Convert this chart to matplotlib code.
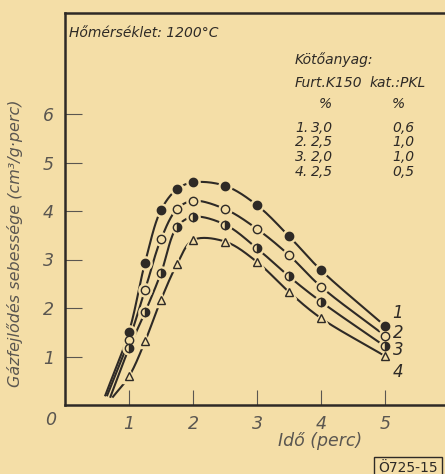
import numpy as np
import matplotlib
matplotlib.use("Agg")
import matplotlib.pyplot as plt

times = [1.0, 1.25, 1.5, 1.75, 2.0, 2.5, 3.0, 3.5, 4.0, 5.0]
rate_1 = [1.51, 2.93, 4.02, 4.45, 4.59, 4.52, 4.12, 3.48, 2.78, 1.63]
rate_2 = [1.34, 2.37, 3.42, 4.04, 4.21, 4.04, 3.63, 3.09, 2.44, 1.43]
rate_3 = [1.17, 1.91, 2.72, 3.67, 3.88, 3.72, 3.23, 2.65, 2.13, 1.21]
rate_4 = [0.59, 1.31, 2.17, 2.90, 3.40, 3.37, 2.95, 2.33, 1.79, 1.01]
# where each curve leaves the time axis (no marker there)
start_x = [0.63, 0.66, 0.71, 0.75]
start_y = [0.20, 0.20, 0.17, 0.17]
curve_names = ["1", "2", "3", "4"]

binder_rows = [("1.", "3,0", "0,6"), ("2.", "2,5", "1,0"),
               ("3.", "2,0", "1,0"), ("4.", "2,5", "0,5")]

paper = "#f4dea7"
ink = "#2e2a26"
pencil = "#5a5650"
W, H = 445, 474
XS, YS = 64.0, 48.5   # pixels per data unit

plt.rcParams['font.family'] = ['Liberation Sans Narrow', 'DejaVu Sans']
plt.rcParams['font.style'] = 'italic'


def smooth_pen(px, py, n=30):
    # centripetal catmull-rom through the points, done in pixel space so the
    # curve looks like a french-curve line; only used to draw the line
    p = np.column_stack([np.asarray(px) * XS, np.asarray(py) * YS])
    p = np.vstack([2 * p[0] - p[1], p, 2 * p[-1] - p[-2]])
    out = []
    for i in range(1, len(p) - 2):
        p0, p1, p2, p3 = p[i - 1], p[i], p[i + 1], p[i + 2]
        t0 = 0.0
        t1 = t0 + np.linalg.norm(p1 - p0) ** 0.5
        t2 = t1 + np.linalg.norm(p2 - p1) ** 0.5
        t3 = t2 + np.linalg.norm(p3 - p2) ** 0.5
        t = np.linspace(t1, t2, n)[:, None]
        a1 = (t1 - t) / (t1 - t0) * p0 + (t - t0) / (t1 - t0) * p1
        a2 = (t2 - t) / (t2 - t1) * p1 + (t - t1) / (t2 - t1) * p2
        a3 = (t3 - t) / (t3 - t2) * p2 + (t - t2) / (t3 - t2) * p3
        b1 = (t2 - t) / (t2 - t0) * a1 + (t - t0) / (t2 - t0) * a2
        b2 = (t3 - t) / (t3 - t1) * a2 + (t - t1) / (t3 - t1) * a3
        c = (t2 - t) / (t2 - t1) * b1 + (t - t1) / (t2 - t1) * b2
        out.append(c)
    c = np.vstack(out)
    return c[:, 0] / XS, c[:, 1] / YS


def fx(px):
    return px / W


def fy(py):
    return 1 - py / H


fig = plt.figure(figsize=(W / 100, H / 100), dpi=100, facecolor=paper)
ax = fig.add_axes([fx(65), fy(405), fx(445 - 65), (405 - 13) / H])
ax.set_facecolor(paper)
ax.set_xlim(0, 380 / XS)
ax.set_ylim(0, 392 / YS)

series = [rate_1, rate_2, rate_3, rate_4]
marker_styles = [
    dict(marker="o", markerfacecolor=ink, fillstyle="full"),
    dict(marker="o", markerfacecolor=paper, fillstyle="full"),
    dict(marker="o", markerfacecolor=ink, fillstyle="right", markerfacecoloralt=paper),
    dict(marker="^", markerfacecolor=paper, fillstyle="full"),
]

for vals, sx, sy, st in zip(series, start_x, start_y, marker_styles):
    lx, ly = smooth_pen([sx] + times, [sy] + vals)
    ax.plot(lx, ly, color=ink, lw=1.5, zorder=2)
    # paper halo so the pen line breaks around each marker
    ax.plot(times, vals, ls="none", marker=st["marker"], ms=9.5,
            markerfacecolor=paper, markeredgecolor=paper, zorder=3)
    ax.plot(times, vals, ls="none", ms=6, markeredgecolor=ink,
            markeredgewidth=1.0, zorder=4, **st)

# curve numbers at the right-hand ends
label_y = [1.90, 1.48, 1.13, 0.68]
for name, ly in zip(curve_names, label_y):
    ax.text(5.2, ly, name, fontsize=12, color=ink, ha="center", va="center")

ax.spines["right"].set_visible(False)
for side in ["left", "bottom", "top"]:
    ax.spines[side].set_color(ink)
    ax.spines[side].set_linewidth(1.8)

ax.set_xticks([1, 2, 3, 4, 5])
ax.set_yticks([1, 2, 3, 4, 5, 6])
ax.tick_params(axis="both", direction="in", colors=pencil, labelcolor=pencil,
               labelsize=12.5, width=0.8)
ax.tick_params(axis="x", length=11, pad=7)
ax.tick_params(axis="y", length=12, pad=8)
fig.text(fx(51), fy(420), "0", fontsize=12.5, color=pencil, ha="center", va="center")

fig.text(fx(15), fy(243), "Gázfejlődés sebessége (cm³/g·perc)", rotation=90,
         fontsize=11.5, color=pencil, ha="center", va="center")
fig.text(fx(320), fy(441), "Idő (perc)", fontsize=12.5, color=pencil,
         ha="center", va="center")

# annotations inside the frame
fs = 10
fig.text(fx(69), fy(33), "Hőmérséklet: 1200°C", fontsize=fs, color=ink,
         ha="left", va="center")
fig.text(fx(295), fy(60), "Kötőanyag:", fontsize=fs, color=ink, ha="left", va="center")
fig.text(fx(295), fy(83), "Furt.K150", fontsize=fs, color=ink, ha="left", va="center")
fig.text(fx(370), fy(83), "kat.:PKL", fontsize=fs, color=ink, ha="left", va="center")
fig.text(fx(325), fy(104), "%", fontsize=fs, color=ink, ha="center", va="center")
fig.text(fx(398), fy(104), "%", fontsize=fs, color=ink, ha="center", va="center")
for i, (num, furt, kat) in enumerate(binder_rows):
    yy = 128 + i * 14.5
    fig.text(fx(295), fy(yy), num, fontsize=fs, color=ink, ha="left", va="center")
    fig.text(fx(311), fy(yy), furt, fontsize=fs, color=ink, ha="left", va="center")
    fig.text(fx(392), fy(yy), kat, fontsize=fs, color=ink, ha="left", va="center")

fig.text(fx(408), fy(468), "Ö725-15", fontsize=10, color=ink, ha="center", va="center",
         style="normal",
         bbox=dict(boxstyle="square,pad=0.3", facecolor=paper, edgecolor=ink, lw=1))

fig.savefig("out.png", dpi=100, facecolor=paper)
